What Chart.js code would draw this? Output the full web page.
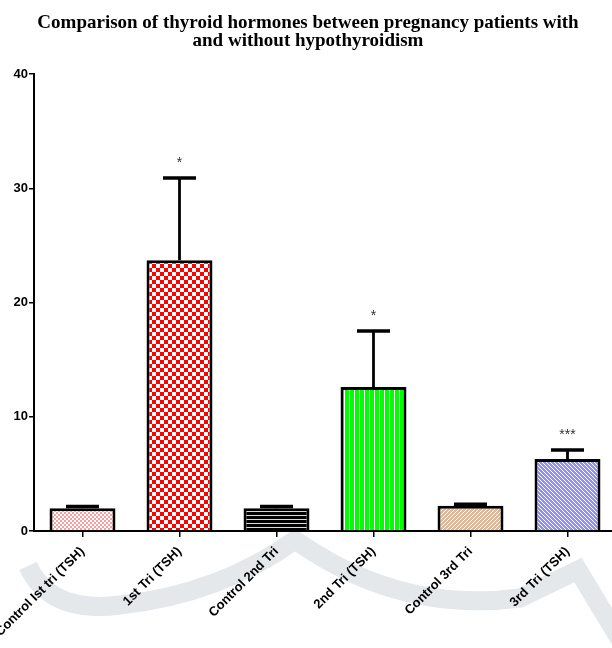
<!DOCTYPE html>
<html>
<head>
<meta charset="utf-8">
<script src="https://cdn.jsdelivr.net/npm/chart.js@4.4.1/dist/chart.umd.min.js"></script>
<style>
  html, body { margin: 0; padding: 0; background: #fff; overflow: hidden; }
  canvas { display: block; }
</style>
</head>
<body>
<canvas id="chart" width="616" height="648"></canvas>
<script>
const labels = ['Control Ist tri (TSH)', '1st Tri (TSH)', 'Control 2nd Tri', '2nd Tri (TSH)', 'Control 3rd Tri', '3rd Tri (TSH)'];
const means = [2.0, 23.7, 2.0, 12.6, 2.2, 6.3];
const errors = [0.15, 7.2, 0.15, 4.9, 0.15, 0.8];
const stars = ['', '*', '', '*', '', '***'];
const yTicks = [0, 10, 20, 30, 40];

const canvas = document.getElementById('chart');
const ctx = canvas.getContext('2d');

function makePattern(size, draw) {
  const c = document.createElement('canvas');
  c.width = size;
  c.height = size;
  const g = c.getContext('2d');
  draw(g, size);
  return ctx.createPattern(c, 'repeat');
}

function checker(fg, cell) {
  return makePattern(cell * 2, (g, s) => {
    g.fillStyle = '#fff';
    g.fillRect(0, 0, s, s);
    g.fillStyle = fg;
    g.fillRect(0, 0, cell, cell);
    g.fillRect(cell, cell, cell, cell);
  });
}

function diagonal(bg, up) {
  return makePattern(4, (g, s) => {
    g.fillStyle = bg;
    g.fillRect(0, 0, s, s);
    g.strokeStyle = '#fff';
    g.lineWidth = 1;
    g.beginPath();
    if (up) {
      g.moveTo(-1, s + 1); g.lineTo(s + 1, -1);
      g.moveTo(-1, 1); g.lineTo(1, -1);
      g.moveTo(s - 1, s + 1); g.lineTo(s + 1, s - 1);
    } else {
      g.moveTo(-1, -1); g.lineTo(s + 1, s + 1);
      g.moveTo(s - 1, -1); g.lineTo(s + 1, 1);
      g.moveTo(-1, s - 1); g.lineTo(1, s + 1);
    }
    g.stroke();
  });
}

const fills = [
  checker('#f7a0a0', 2),
  checker('#ff0000', 4),
  makePattern(4, (g, s) => {
    g.fillStyle = '#000';
    g.fillRect(0, 0, s, s);
    g.fillStyle = '#ddd';
    g.fillRect(0, 3, s, 1);
  }),
  makePattern(5, (g, s) => {
    g.fillStyle = '#00ff00';
    g.fillRect(0, 0, s, s);
    g.fillStyle = '#fff';
    g.fillRect(4, 0, 1, s);
  }),
  diagonal('#dcb89c', true),
  diagonal('#8f8fff', false)
];

// faint grey swoosh of the publisher's watermark behind the labels
const watermark = {
  id: 'watermark',
  beforeDraw(chart) {
    const c = chart.ctx;
    c.save();
    c.strokeStyle = '#e4e8eb';
    c.lineWidth = 19;
    c.lineJoin = 'miter';
    c.beginPath();
    c.moveTo(28, 566);
    c.quadraticCurveTo(50, 614, 120, 605);
    c.quadraticCurveTo(220, 594, 295, 540);
    c.quadraticCurveTo(400, 614, 520, 598);
    c.lineTo(578, 570);
    c.lineTo(625, 648);
    c.stroke();
    c.restore();
  }
};

const errorBars = {
  id: 'errorBars',
  afterDatasetsDraw(chart) {
    const c = chart.ctx;
    const y = chart.scales.y;
    chart.getDatasetMeta(0).data.forEach((bar, i) => {
      const top = y.getPixelForValue(means[i] + errors[i]);
      const half = bar.width / 4;
      c.save();
      c.strokeStyle = '#000';
      c.lineWidth = 2.8;
      c.beginPath();
      c.moveTo(bar.x, bar.y);
      c.lineTo(bar.x, top);
      c.stroke();
      c.lineWidth = 3.5;
      c.beginPath();
      c.moveTo(bar.x - half, top);
      c.lineTo(bar.x + half, top);
      c.stroke();
      if (stars[i]) {
        c.fillStyle = '#333';
        c.font = '14px "Liberation Sans", Arial, sans-serif';
        c.textAlign = 'center';
        c.textBaseline = 'middle';
        c.fillText(stars[i], bar.x, top - 15);
      }
      c.restore();
    });
  }
};

new Chart(ctx, {
  type: 'bar',
  data: {
    labels,
    datasets: [{
      data: means,
      backgroundColor: fills,
      borderColor: '#000',
      borderWidth: 3,
      borderSkipped: 'bottom',
      barPercentage: 0.68,
      categoryPercentage: 1
    }]
  },
  options: {
    responsive: false,
    animation: false,
    devicePixelRatio: 1,
    layout: { padding: 0 },
    plugins: {
      legend: { display: false },
      tooltip: { enabled: false },
      title: {
        display: true,
        text: ['Comparison of thyroid hormones between pregnancy patients with', 'and without hypothyroidism'],
        color: '#000',
        font: { family: '"Liberation Serif", "Times New Roman", serif', size: 19, weight: 'bold', lineHeight: 0.95 },
        padding: { top: 14, bottom: 24 }
      }
    },
    scales: {
      x: {
        offset: true,
        grid: { display: true, drawOnChartArea: false, drawTicks: true, tickLength: 6, color: '#000', lineWidth: 1.5, offset: false },
        border: { display: true, color: '#000', width: 2 },
        ticks: {
          color: '#000',
          font: { family: '"Liberation Sans", Arial, sans-serif', size: 13, weight: 'bold' },
          minRotation: 45,
          maxRotation: 45,
          autoSkip: false,
          padding: 7
        },
        afterFit(s) {
          s.paddingLeft = 0;
          s.paddingRight = 0;
          s.height = 117;
        }
      },
      y: {
        min: 0,
        max: 40,
        afterBuildTicks(s) {
          s.ticks = yTicks.map(v => ({ value: v }));
        },
        grid: { display: true, drawOnChartArea: false, drawTicks: true, tickLength: 5, color: '#000', lineWidth: 1.5 },
        border: { display: true, color: '#000', width: 2 },
        ticks: {
          color: '#000',
          font: { family: '"Liberation Sans", Arial, sans-serif', size: 13, weight: 'bold' },
          padding: 1
        },
        afterFit(s) {
          s.width = 34;
        }
      }
    }
  },
  plugins: [watermark, errorBars]
});
</script>
</body>
</html>
